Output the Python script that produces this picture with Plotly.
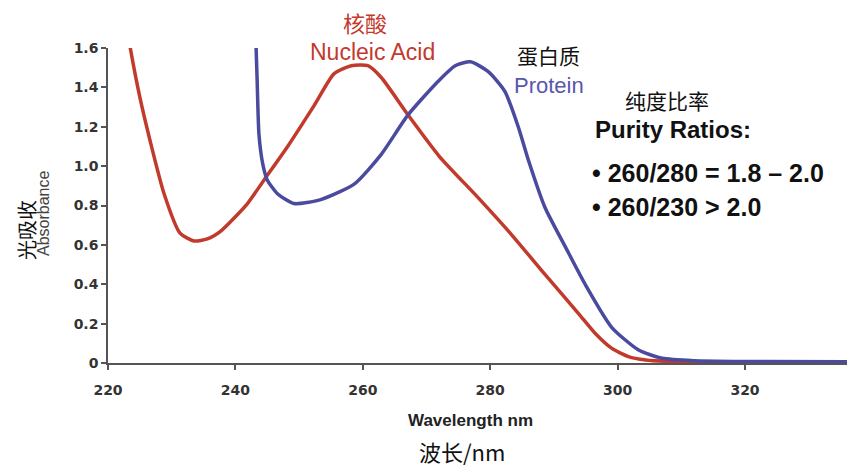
import plotly.graph_objects as go

# Nucleic acid absorbance spectrum
na_wl = [223.0, 223.5, 225.0, 226.6, 228.8, 231.3, 233.5, 235.6, 237.7, 241.9, 244.5,
         248.2, 252.4, 255.5, 258.2, 260.8, 262.9, 267.1, 272.0, 278.1, 283.4, 288.6,
         293.9, 296.5, 299.1, 301.7, 304.4, 308.0, 315.0, 325.0, 336.0]
na_abs = [1.70, 1.60, 1.35, 1.13, 0.86, 0.66, 0.62, 0.63, 0.67, 0.81, 0.93,
          1.10, 1.31, 1.47, 1.51, 1.51, 1.45, 1.26, 1.05, 0.84, 0.65, 0.45,
          0.25, 0.15, 0.074, 0.032, 0.015, 0.008, 0.006, 0.005, 0.005]

# Protein absorbance spectrum
pr_wl = [243.2, 243.4, 243.7, 244.3, 245.0, 246.6, 249.2, 253.4, 258.7, 262.9, 267.1,
         271.8, 274.5, 276.9, 279.7, 282.3, 284.4, 286.0, 288.6, 291.8, 294.9, 299.1,
         303.3, 307.0, 312.0, 320.0, 336.0]
pr_abs = [1.65, 1.45, 1.16, 1.01, 0.93, 0.86, 0.81, 0.83, 0.91, 1.06, 1.26,
          1.43, 1.51, 1.53, 1.48, 1.38, 1.20, 1.03, 0.79, 0.59, 0.40, 0.18,
          0.066, 0.024, 0.012, 0.008, 0.006]

x_ticks = [220, 240, 260, 280, 300, 320, 340]
y_ticks = [0, 0.2, 0.4, 0.6, 0.8, 1.0, 1.2, 1.4, 1.6]
y_tick_text = ["0", "0.2", "0.4", "0.6", "0.8", "1.0", "1.2", "1.4", "1.6"]

RED = "#c23a2c"
BLUE = "#4a4a9e"
CJK = "Noto Sans CJK SC"
LAT = "Liberation Sans, Arial, sans-serif"
TICKF = "DejaVu Sans, sans-serif"

W, H = 847, 470
ML, MR, MT, MB = 108, 0, 48, 107
PW, PH = W - ML - MR, H - MT - MB
PX_PER_NM = 6.37

fig = go.Figure()
fig.add_trace(go.Scatter(x=na_wl, y=na_abs, mode="lines",
                         line=dict(color=RED, width=3.5, shape="spline", smoothing=0.6),
                         hoverinfo="skip"))
fig.add_trace(go.Scatter(x=pr_wl, y=pr_abs, mode="lines",
                         line=dict(color=BLUE, width=3.5, shape="spline", smoothing=0.6),
                         hoverinfo="skip"))

ann = []
def add(text, xp, yp, size, color="#111", font=LAT, xanchor="center", yanchor="middle", angle=0):
    # convert canvas pixel position to paper (plot-area) fraction
    ann.append(dict(text=text, x=(xp - ML) / PW, y=(H - MB - yp) / PH,
                    xref="paper", yref="paper", showarrow=False,
                    xanchor=xanchor, yanchor=yanchor, textangle=angle,
                    font=dict(size=size, color=color, family=font)))

add("核酸", 365, 22, 22, RED, CJK)
add("Nucleic Acid", 372, 52, 23, RED)
add("蛋白质", 548, 55, 21, "#111", CJK)
add("Protein", 549, 85, 22, "#5757ad")
add("纯度比率", 667, 100, 21, "#111", CJK)
add("<b>Purity Ratios:</b>", 593, 129, 24, "#111", LAT, xanchor="left")
add("<b>• 260/280 = 1.8 – 2.0</b>", 590, 173, 25, "#111", LAT, xanchor="left")
add("<b>• 260/230 > 2.0</b>", 590, 207, 25, "#111", LAT, xanchor="left")
add("光吸收", 27, 230, 20, "#111", CJK, angle=-90)
add("Absorbance", 43, 214, 16, "#444", LAT, angle=-90)
add("<b>Wavelength nm</b>", 470, 420, 17, "#222")
add("波长/nm", 462, 451, 22, "#111", CJK)

axis_common = dict(showgrid=False, zeroline=False, showline=True, linecolor="#555", linewidth=1.5,
                   ticks="outside", ticklen=5, tickcolor="#555", tickwidth=1.5,
                   tickfont=dict(family=TICKF, size=14, color="#333", weight="bold"))

fig.update_layout(
    width=W, height=H,
    margin=dict(l=ML, r=MR, t=MT, b=MB),
    paper_bgcolor="white", plot_bgcolor="white",
    showlegend=False,
    annotations=ann,
    xaxis=dict(range=[220, 220 + PW / PX_PER_NM], tickvals=x_ticks,
               ticktext=[str(v) for v in x_ticks], ticklabelstandoff=8, **axis_common),
    yaxis=dict(range=[0, 1.6], tickvals=y_ticks, ticktext=y_tick_text, **axis_common),
)

fig.write_html("out.html")
